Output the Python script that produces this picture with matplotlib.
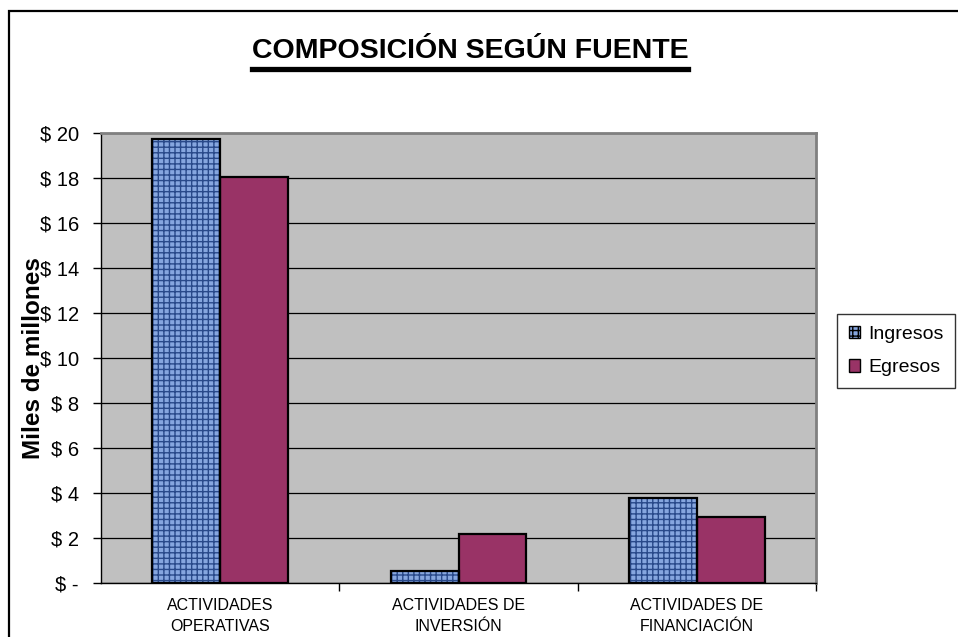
import matplotlib
matplotlib.use("Agg")
import matplotlib.pyplot as plt
import numpy as np
from matplotlib.lines import Line2D
from matplotlib.patches import Rectangle, Patch
from matplotlib.ticker import FuncFormatter, FixedLocator

categories = ["ACTIVIDADES\nOPERATIVAS", "ACTIVIDADES DE\nINVERSIÓN", "ACTIVIDADES DE\nFINANCIACIÓN"]
ingresos = [19.73, 0.53, 3.78]
egresos = [18.05, 2.18, 2.95]
series_names = ["Ingresos", "Egresos"]
yticks = [0, 2, 4, 6, 8, 10, 12, 14, 16, 18, 20]

plt.rcParams['font.family'] = ['Liberation Sans', 'DejaVu Sans']
plt.rcParams['hatch.linewidth'] = 1.0

fig = plt.figure(figsize=(9.58, 6.37), dpi=100)
fig.patch.set_facecolor('white')
# outer chart frame
fig.add_artist(Rectangle((9/958, -0.05), 1.2, 1 - 11/637 + 0.05, transform=fig.transFigure,
                         fill=False, edgecolor='black', linewidth=1.6))

ax = fig.add_axes([101/958, 1 - 583/637, (816 - 101)/958, (583 - 133)/637])
ax.set_facecolor('#c0c0c0')

x = np.arange(len(categories))
w = 0.285
ing_color = '#86a6df'
ing_hatch = '#29498a'
egr_color = '#993366'
ax.bar(x - w/2, ingresos, w, color=ing_color, hatch='+++', edgecolor=ing_hatch, linewidth=0, zorder=3)
ax.bar(x - w/2, ingresos, w, fill=False, edgecolor='black', linewidth=1.6, zorder=4)
ax.bar(x + w/2, egresos, w, color=egr_color, edgecolor='black', linewidth=1.6, zorder=3)

ax.set_xlim(-0.5, len(categories) - 0.5)
ax.set_ylim(0, 20)
ax.yaxis.set_major_locator(FixedLocator(yticks))
ax.yaxis.set_major_formatter(FuncFormatter(lambda v, p: "$ -" if v == 0 else f"$ {int(v)}"))
ax.grid(axis='y', color='black', linewidth=0.9, zorder=1)
ax.set_axisbelow(True)

ax.set_xticks(x)
ax.set_xticklabels(categories, fontsize=11.5, linespacing=1.5)
ax.tick_params(axis='x', which='major', length=0, pad=11)
ax.set_xticks(np.arange(-0.5, len(categories) + 0.5, 1.0)[1:], minor=True)
ax.tick_params(axis='x', which='minor', length=6, width=1, direction='out')
ax.tick_params(axis='y', length=6, width=1, direction='out', labelsize=14.5, pad=10)

for s in ['top', 'right']:
    ax.spines[s].set_color('#808080')
    ax.spines[s].set_linewidth(2)
ax.spines['left'].set_color('black')
ax.spines['bottom'].set_color('black')
ax.spines['left'].set_linewidth(1)
ax.spines['bottom'].set_linewidth(1)

ax.set_ylabel("Miles de millones", fontsize=17.5, fontweight='bold', labelpad=-4)

t = fig.text(470/958, 1 - 51/637, "COMPOSICIÓN SEGÚN FUENTE", ha='center', va='center',
             fontsize=20.5, fontweight='bold')
fig.canvas.draw()
bb = t.get_window_extent(fig.canvas.get_renderer())
fy = (bb.y0 - 5) / fig.bbox.height
fig.add_artist(Line2D([bb.x0 / fig.bbox.width, bb.x1 / fig.bbox.width], [fy, fy],
                      transform=fig.transFigure, color='black', linewidth=3.8))

handles = [Patch(facecolor=ing_color, edgecolor='black', hatch='+++'),
           Patch(facecolor=egr_color, edgecolor='black')]
leg = fig.legend(handles, series_names, loc='upper left', bbox_to_anchor=(837/958, 1 - 314/637),
                 fontsize=14, frameon=True, fancybox=False, edgecolor='black',
                 handlelength=0.6, handleheight=0.6, handletextpad=0.4, borderpad=0.6,
                 labelspacing=0.85, borderaxespad=0)
leg.get_frame().set_linewidth(1)

fig.savefig("out.png", dpi=100)
